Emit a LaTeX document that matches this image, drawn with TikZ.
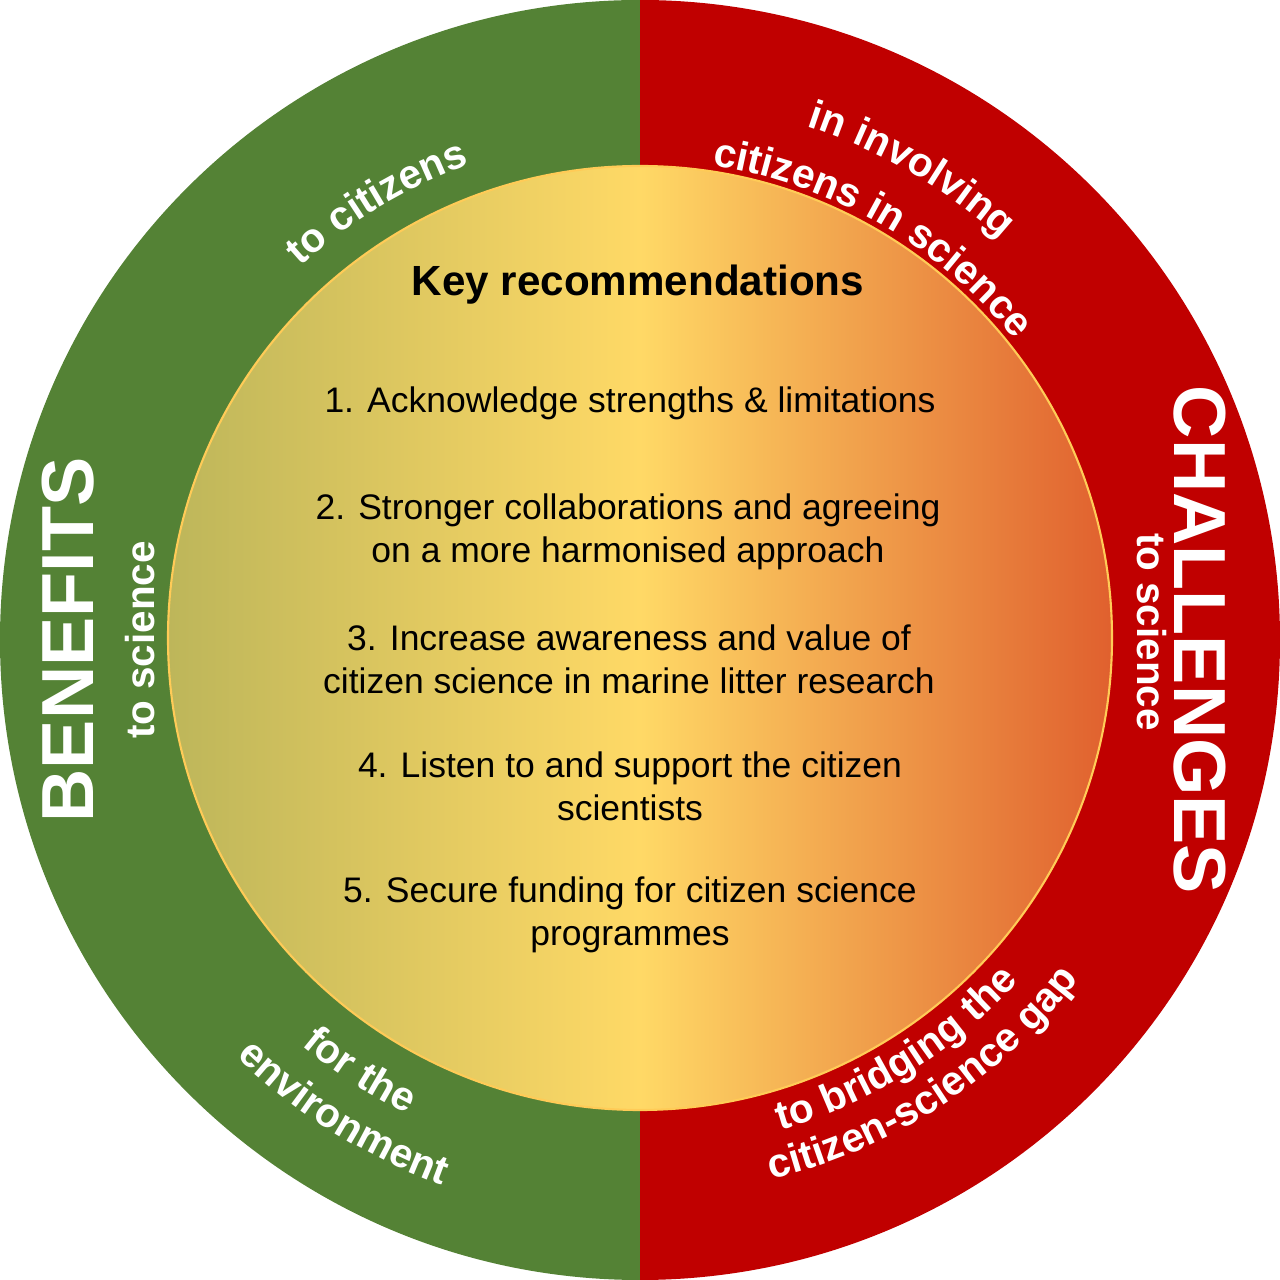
\documentclass[tikz,border=0pt]{standalone}
\usepackage{fontspec}
\setmainfont{Liberation Sans}
\usetikzlibrary{decorations.text}
\definecolor{bgreen}{HTML}{548235}
\definecolor{cred}{HTML}{C00000}
\definecolor{gl}{HTML}{BDB65A}
\definecolor{gm}{HTML}{FFD966}
\definecolor{gr}{HTML}{E0602E}
\newcommand{\ringf}{\bfseries\fontsize{11.6}{14}\selectfont}
\begin{document}
\begin{tikzpicture}[
  ringtext/.style={decorate,decoration={text along path,text align=center,text color=white,text={#1}}},
  item/.style={align=center,font=\fontsize{10.1}{12.3}\selectfont,text=black},
  big/.style={text=white,font=\bfseries\fontsize{21}{24}\selectfont},
  side/.style={text=white,font=\bfseries\fontsize{11.5}{13}\selectfont}]
\useasboundingbox (-6.4,-6.4) rectangle (6.4,6.4);
\fill[bgreen] (0,6.4) arc[start angle=90,end angle=270,radius=6.4] -- cycle;
\fill[cred] (0,6.4) arc[start angle=90,end angle=-90,radius=6.4] -- cycle;
\shade[left color=gl,right color=gr,middle color=gm] (0,0.02) circle[radius=4.72];
\draw[gm!85!orange,line width=0.6pt] (0,0.02) circle[radius=4.72];
% ring texts
\path[ringtext={|\ringf|to citizens}] (161:5.05) arc[start angle=161,end angle=81,radius=5.05];
\path[ringtext={|\ringf|in involving}] (100:5.4) arc[start angle=100,end angle=20,radius=5.4];
\path[ringtext={|\ringf|citizens in science}] (100:4.8) arc[start angle=100,end angle=20,radius=4.8];
\path[ringtext={|\ringf|for the}] (197:5.28) arc[start angle=197,end angle=277,radius=5.28];
\path[ringtext={|\ringf|environment}] (198:5.8) arc[start angle=198,end angle=278,radius=5.8];
\path[ringtext={|\ringf|to bridging the}] (-98:5.1) arc[start angle=-98,end angle=-18,radius=5.1];
\path[ringtext={|\ringf|citizen-science gap}] (-97:5.55) arc[start angle=-97,end angle=-17,radius=5.55];
\node[big,rotate=90] (ben) at (-5.72,0) {BENEFITS};
\node[big,rotate=-90] (cha) at (5.6,0) {CHALLENGES};
\node[side,rotate=90] (ls) at (-5.0,0) {to science};
\node[side,rotate=-90] (rs) at (5.12,0.08) {to science};
% inner
\node[font=\bfseries\fontsize{12}{14}\selectfont] (title) at (-0.02,3.55) {Key recommendations};
\node[item] (i1) at (-0.1,2.37) {1. Acknowledge strengths \& limitations};
\node[item] (i2) at (-0.12,1.08) {2. Stronger collaborations and agreeing\\on a more harmonised approach};
\node[item] (i3) at (-0.11,-0.19) {3. Increase awareness and value of\\citizen science in marine litter research};
\node[item] (i4) at (-0.1,-1.46) {4. Listen to and support the citizen\\scientists};
\node[item] (i5) at (-0.1,-2.75) {5. Secure funding for citizen science\\programmes};
\end{tikzpicture}
\end{document}
